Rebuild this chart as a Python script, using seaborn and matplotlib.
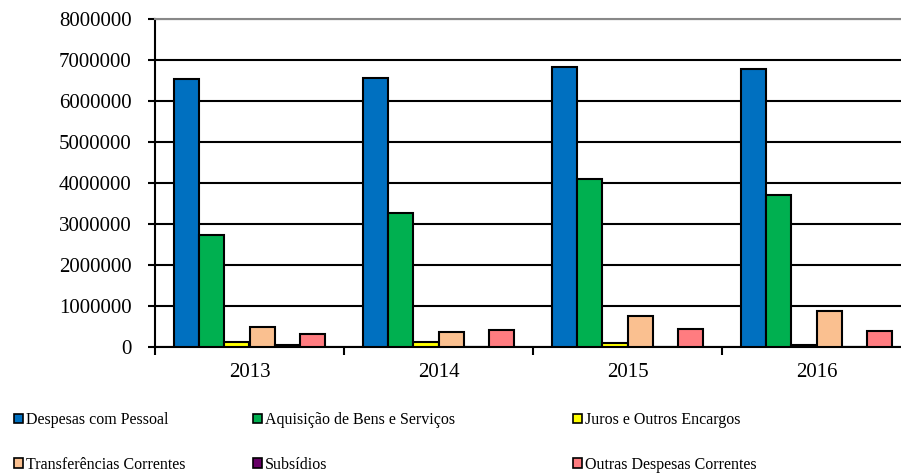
import numpy as np
import pandas as pd
import matplotlib
matplotlib.use("Agg")
import matplotlib.pyplot as plt
import seaborn as sns

# dados
anos = ["2013", "2014", "2015", "2016"]
categorias = ["Despesas com Pessoal", "Aquisição de Bens e Serviços", "Juros e Outros Encargos",
              "Transferências Correntes", "Subsídios", "Outras Despesas Correntes"]
pessoal = [6540000, 6550000, 6830000, 6770000]
aquisicao = [2730000, 3250000, 4090000, 3710000]
juros = [100000, 100000, 90000, 30000]
transferencias = [480000, 350000, 750000, 870000]
subsidios = [30000, 0, 0, 0]
outras = [300000, 400000, 430000, 385000]
cores = ["#0070C0", "#00B050", "#FFFF00", "#FAC090", "#660066", "#FF7C80"]

series = [pessoal, aquisicao, juros, transferencias, subsidios, outras]
rows = []
for cat, vals in zip(categorias, series):
    for ano, v in zip(anos, vals):
        rows.append({"Ano": ano, "Categoria": cat, "Valor": v})
df = pd.DataFrame(rows)

sns.set_style("white")
plt.rcParams["font.family"] = ["Liberation Serif", "DejaVu Serif"]
plt.rcParams["text.color"] = "black"
plt.rcParams["xtick.color"] = "black"
plt.rcParams["ytick.color"] = "black"

fig = plt.figure(figsize=(9.01, 4.75), dpi=100)
ax = fig.add_axes([155 / 901, (475 - 346.5) / 475, (911 - 155) / 901, 327.5 / 475])

sns.barplot(data=df, x="Ano", y="Valor", hue="Categoria", hue_order=categorias,
            palette=cores, width=0.8, edgecolor="black", linewidth=1.5,
            saturation=1, ax=ax, zorder=3)

ax.set_ylim(0, 8000000)
ax.set_xlim(-0.5, 3.5)
ax.set_yticks(np.arange(0, 8000001, 1000000))
ax.set_yticklabels([str(v) for v in range(0, 8000001, 1000000)])
ax.set_xlabel("")
ax.set_ylabel("")

# grelha horizontal
ax.grid(axis="y", color="black", linewidth=1.5, zorder=0)
ax.set_axisbelow(True)
ax.spines["right"].set_visible(False)
ax.spines["top"].set_color("#888888")
ax.spines["top"].set_linewidth(1.5)
for s in ["left", "bottom"]:
    ax.spines[s].set_color("black")
    ax.spines[s].set_linewidth(1.5)

ax.tick_params(axis="y", left=True, length=5, width=1.5, pad=12, labelsize=15, labelcolor="black")
ax.tick_params(axis="x", bottom=False, length=0, pad=12, labelsize=15, labelcolor="black")
ax.set_xticks([-0.5, 0.5, 1.5, 2.5, 3.5], minor=True)
ax.tick_params(axis="x", which="minor", bottom=True, length=6, width=1.5, direction="out")

# legenda em três colunas
handles, labels = ax.get_legend_handles_labels()
ax.legend_.remove()
colunas = [(0, 3, 14 / 901), (1, 4, 253 / 901), (2, 5, 573 / 901)]
for i, j, xpos in colunas:
    leg = fig.legend([handles[i], handles[j]], [labels[i], labels[j]],
                     loc="upper left", bbox_to_anchor=(xpos, 1 - 412 / 475),
                     frameon=False, fontsize=11.5, handlelength=0.55, handleheight=0.55,
                     handletextpad=0.2, labelspacing=1.8, borderaxespad=0, borderpad=0)
    for p in leg.get_patches():
        p.set_edgecolor("black")
        p.set_linewidth(1.2)

fig.savefig("out.png", dpi=100)
